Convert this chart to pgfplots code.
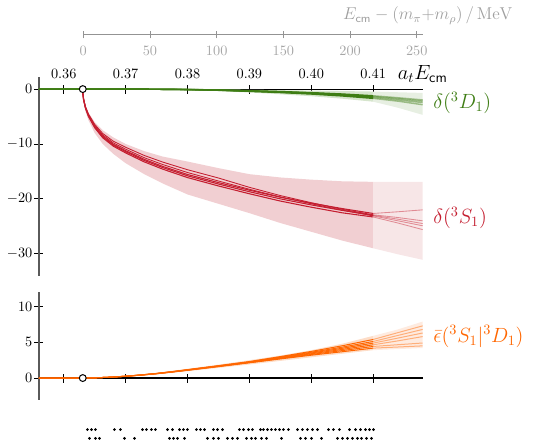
\documentclass[border=0pt]{standalone}
\usepackage{pgfplots}
\pgfplotsset{compat=1.18}
\definecolor{dgreen}{RGB}{62,125,20}
\definecolor{gband}{RGB}{214,229,205}
\definecolor{gbandl}{RGB}{231,239,226}
\definecolor{dred}{RGB}{196,30,48}
\definecolor{rband}{RGB}{241,207,210}
\definecolor{rbandl}{RGB}{247,230,231}
\definecolor{dorange}{RGB}{255,102,0}
\definecolor{oband}{RGB}{253,221,200}
\definecolor{obandl}{RGB}{254,235,224}
\definecolor{axgray}{RGB}{90,90,90}
\pgfplotsset{
  panel/.style={scale only axis, width=268.6pt, xmin=0.356, xmax=0.418,
    axis x line=middle, axis y line=left,
    axis line style={-}, x axis line style={black, line width=0.8pt},
    y axis line style={axgray, line width=0.8pt},
    xtick={0.36,0.37,0.38,0.39,0.40,0.41},
    tick align=center, major tick length=6.3pt,
    tick style={black, line width=0.6pt},
    yticklabel style={xshift=2pt}, clip=false}
}
\begin{document}
\begin{tikzpicture}
\path[use as bounding box] (0,0) rectangle (375.2pt,-308.7pt);
% ---------------- MeV axis ----------------
\begin{axis}[at={(58.31pt,-24.43pt)}, anchor=west, scale only axis,
  width=238pt, height=10pt, xmin=0, xmax=254.9, ymin=-1, ymax=1,
  axis x line=middle, axis y line=none, ytick=\empty,
  axis line style={-, gray!85, line width=0.6pt},
  xtick={0,50,100,150,200,250}, tick align=center, major tick length=5pt,
  tick style={gray!85, line width=0.6pt},
  xticklabel style={text=gray!70, yshift=-2pt}, clip=false]
\addplot[draw=none] coordinates {(0,0) (250,0)};
\node[anchor=east, text=gray!75, font=\fontsize{11.6}{14}\selectfont] at (axis cs:254.9,0) [xshift=66pt, yshift=13.5pt] {$E_{\mathsf{cm}} - (m_\pi{+}m_\rho)\,/\,\mathrm{MeV}$};
\end{axis}
% ---------------- main axis ----------------
\begin{axis}[panel, at={(27.3pt,-193.0pt)}, anchor=south west,
  height=139.1pt, ymin=-34, ymax=2.2,
  xticklabels={0.36,0.37,0.38,0.39,0.40,0.41},
  xticklabel style={anchor=south, yshift=6.5pt},
  ytick={0,-10,-20,-30}]
% red band
\addplot[fill=rband, draw=none] coordinates {(0.36307,0) (0.3635,-3.0) (0.364,-4.3) (0.365,-6.0) (0.3663,-7.5) (0.368,-8.8) (0.370,-10.0) (0.373,-11.3) (0.376,-12.3) (0.380,-13.2) (0.385,-14.4) (0.390,-15.5) (0.395,-16.1) (0.400,-16.5) (0.405,-16.8) (0.410,-16.9)
 (0.410,-29.0) (0.405,-27.6) (0.400,-26.0) (0.395,-24.4) (0.390,-22.6) (0.385,-20.9) (0.380,-19.2) (0.376,-17.2) (0.373,-15.5) (0.370,-13.5) (0.368,-11.8) (0.3663,-10.0) (0.365,-8.0) (0.364,-5.7) (0.3635,-4.0) (0.36307,0)} --cycle;
\addplot[fill=rbandl, draw=none] coordinates {(0.410,-16.9) (0.414,-16.9) (0.418,-16.9) (0.418,-31.1) (0.414,-30.1) (0.410,-29.0)} --cycle;
% green band
\addplot[fill=gband, draw=none] coordinates {(0.375,0) (0.38,-0.03) (0.385,-0.08) (0.39,-0.14) (0.395,-0.2) (0.40,-0.28) (0.405,-0.36) (0.41,-0.45)
 (0.41,-2.3) (0.405,-1.75) (0.40,-1.3) (0.395,-0.95) (0.39,-0.62) (0.385,-0.36) (0.38,-0.16) (0.375,-0.04)} --cycle;
\addplot[fill=gbandl, draw=none] coordinates {(0.41,-0.45) (0.414,-0.58) (0.418,-0.7) (0.418,-4.7) (0.414,-3.4) (0.41,-2.3)} --cycle;
% red lines
\addplot[dred, line width=0.75pt] coordinates {(0.36307,0) (0.36310,-0.9) (0.3632,-1.9) (0.3635,-3.4) (0.364,-4.9) (0.365,-6.9) (0.3663,-8.7) (0.368,-10.2) (0.370,-11.4) (0.373,-13.0) (0.376,-14.3) (0.380,-15.8) (0.385,-17.3) (0.390,-18.7) (0.395,-20.0) (0.400,-21.1) (0.405,-22.1) (0.410,-23.0)};
\addplot[dred, line width=0.75pt] coordinates {(0.36307,0) (0.36310,-0.92) (0.3632,-1.94) (0.3635,-3.47) (0.364,-5.0) (0.365,-7.04) (0.3663,-8.87) (0.368,-10.4) (0.370,-11.63) (0.373,-13.26) (0.376,-14.59) (0.380,-16.12) (0.385,-17.65) (0.390,-19.07) (0.395,-20.4) (0.400,-21.52) (0.405,-22.54) (0.410,-23.3)};
\addplot[dred, line width=0.75pt] coordinates {(0.36307,0) (0.36310,-0.89) (0.3632,-1.87) (0.3635,-3.35) (0.364,-4.83) (0.365,-6.8) (0.3663,-8.57) (0.368,-10.05) (0.370,-11.23) (0.373,-12.8) (0.376,-14.09) (0.380,-15.56) (0.385,-17.04) (0.390,-18.42) (0.395,-19.7) (0.400,-20.78) (0.405,-21.77) (0.410,-22.66)};
\addplot[dred, line width=0.6pt] coordinates {(0.36307,0) (0.36310,-0.84) (0.3632,-1.77) (0.3635,-3.16) (0.364,-4.56) (0.365,-6.42) (0.3663,-8.09) (0.368,-9.49) (0.370,-10.6) (0.373,-12.09) (0.376,-13.3) (0.380,-14.69) (0.385,-16.2) (0.390,-17.9) (0.395,-19.4) (0.400,-20.7) (0.405,-21.9) (0.410,-22.9)};
\addplot[dred, line width=0.6pt] coordinates {(0.36307,0) (0.36310,-0.86) (0.3632,-1.82) (0.3635,-3.26) (0.364,-4.7) (0.365,-6.62) (0.3663,-8.35) (0.368,-9.8) (0.370,-10.95) (0.373,-12.5) (0.376,-13.75) (0.380,-15.2) (0.385,-16.75) (0.390,-18.25) (0.395,-19.65) (0.400,-20.9) (0.405,-22.05) (0.410,-23.1)};
\addplot[dred, opacity=0.45, line width=0.6pt] coordinates {(0.410,-23.0) (0.414,-23.7) (0.418,-24.5)};
\addplot[dred, opacity=0.45, line width=0.6pt] coordinates {(0.410,-23.3) (0.414,-24.4) (0.418,-25.6)};
\addplot[dred, opacity=0.45, line width=0.6pt] coordinates {(0.410,-22.66) (0.414,-22.35) (0.418,-22.0)};
\addplot[dred, opacity=0.45, line width=0.6pt] coordinates {(0.410,-22.9) (0.414,-23.4) (0.418,-24.0)};
\addplot[dred, opacity=0.45, line width=0.6pt] coordinates {(0.410,-23.1) (0.414,-24.0) (0.418,-24.9)};
% green lines
\addplot[dgreen, line width=1pt] coordinates {(0.356,0) (0.36307,0) (0.370,-0.01) (0.375,-0.03) (0.380,-0.08) (0.385,-0.18) (0.390,-0.33) (0.395,-0.5) (0.400,-0.72) (0.405,-1.0) (0.410,-1.35)};
\addplot[dgreen, line width=1pt] coordinates {(0.356,0) (0.36307,0) (0.370,-0.01) (0.375,-0.03) (0.380,-0.09) (0.385,-0.2) (0.390,-0.37) (0.395,-0.56) (0.400,-0.81) (0.405,-1.12) (0.410,-1.51)};
\addplot[dgreen, line width=1pt] coordinates {(0.356,0) (0.36307,0) (0.370,-0.01) (0.375,-0.03) (0.380,-0.07) (0.385,-0.16) (0.390,-0.3) (0.395,-0.45) (0.400,-0.65) (0.405,-0.9) (0.410,-1.22)};
\addplot[dgreen, line width=1pt] coordinates {(0.356,0) (0.36307,0) (0.370,-0.01) (0.375,-0.03) (0.380,-0.1) (0.385,-0.22) (0.390,-0.41) (0.395,-0.63) (0.400,-0.9) (0.405,-1.25) (0.410,-1.69)};
\addplot[dgreen, opacity=0.45, line width=1pt] coordinates {(0.410,-1.35) (0.414,-1.75) (0.418,-2.2)};
\addplot[dgreen, opacity=0.45, line width=1pt] coordinates {(0.410,-1.51) (0.414,-1.96) (0.418,-2.46)};
\addplot[dgreen, opacity=0.45, line width=1pt] coordinates {(0.410,-1.22) (0.414,-1.58) (0.418,-1.98)};
\addplot[dgreen, opacity=0.45, line width=1pt] coordinates {(0.410,-1.69) (0.414,-2.2) (0.418,-2.85)};
% threshold
\addplot[only marks, mark=*, mark size=2.4pt, mark options={fill=white, draw=black, line width=0.7pt}] coordinates {(0.36307,0)};
% labels
\node[font=\Large] at (axis cs:0.418,0) [yshift=10.5pt] {$a_t E_{\mathsf{cm}}$};
\node[anchor=west, text=dgreen, font=\Large] at (axis cs:0.418,-2.55) [xshift=4pt] {$\delta\bigl({}^3D_1\bigr)$};
\node[anchor=west, text=dred, font=\Large] at (axis cs:0.418,-23.5) [xshift=4pt] {$\delta\bigl({}^3S_1\bigr)$};
\end{axis}
% ---------------- bottom axis ----------------
\begin{axis}[panel, at={(27.3pt,-279.65pt)}, anchor=south west,
  height=75.1pt, ymin=-3, ymax=12,
  xticklabels={}, ytick={0,5,10}]
% orange band
\addplot[fill=oband, draw=none] coordinates {(0.36307,0) (0.365,0.04) (0.37,0.3) (0.375,0.72) (0.38,1.3) (0.385,1.88) (0.39,2.5) (0.395,3.15) (0.40,3.9) (0.405,4.8) (0.41,5.9)
 (0.41,3.9) (0.405,3.4) (0.40,2.9) (0.395,2.4) (0.39,1.9) (0.385,1.42) (0.38,0.95) (0.375,0.52) (0.37,0.2) (0.365,0.02) (0.36307,0)} --cycle;
\addplot[fill=obandl, draw=none] coordinates {(0.41,5.9) (0.414,6.8) (0.418,7.9) (0.418,4.2) (0.414,4.05) (0.41,3.9)} --cycle;
% orange lines
\addplot[dorange, line width=0.7pt] coordinates {(0.356,0) (0.36307,0) (0.365,0.029) (0.3675,0.116) (0.37,0.243) (0.3725,0.407) (0.375,0.601) (0.3775,0.834) (0.38,1.086) (0.385,1.6) (0.39,2.134) (0.395,2.674) (0.40,3.196) (0.405,3.68) (0.41,4.185)};
\addplot[dorange, line width=0.7pt] coordinates {(0.356,0) (0.36307,0) (0.365,0.03) (0.3675,0.118) (0.37,0.246) (0.3725,0.414) (0.375,0.611) (0.3775,0.847) (0.38,1.103) (0.385,1.625) (0.39,2.167) (0.395,2.737) (0.40,3.298) (0.405,3.84) (0.41,4.418)};
\addplot[dorange, line width=0.7pt] coordinates {(0.356,0) (0.36307,0) (0.365,0.03) (0.3675,0.12) (0.37,0.25) (0.3725,0.42) (0.375,0.62) (0.3775,0.86) (0.38,1.12) (0.385,1.65) (0.39,2.2) (0.395,2.8) (0.40,3.4) (0.405,4.0) (0.41,4.65)};
\addplot[dorange, line width=0.7pt] coordinates {(0.356,0) (0.36307,0) (0.365,0.03) (0.3675,0.122) (0.37,0.254) (0.3725,0.426) (0.375,0.629) (0.3775,0.873) (0.38,1.137) (0.385,1.675) (0.39,2.233) (0.395,2.863) (0.40,3.502) (0.405,4.16) (0.41,4.883)};
\addplot[dorange, line width=0.7pt] coordinates {(0.356,0) (0.36307,0) (0.365,0.031) (0.3675,0.124) (0.37,0.258) (0.3725,0.433) (0.375,0.639) (0.3775,0.886) (0.38,1.154) (0.385,1.7) (0.39,2.266) (0.395,2.926) (0.40,3.604) (0.405,4.32) (0.41,5.115)};
\addplot[dorange, line width=0.7pt] coordinates {(0.356,0) (0.36307,0) (0.365,0.031) (0.3675,0.126) (0.37,0.262) (0.3725,0.44) (0.375,0.65) (0.3775,0.901) (0.38,1.174) (0.385,1.729) (0.39,2.306) (0.395,3.002) (0.40,3.726) (0.405,4.512) (0.41,5.394)};
\addplot[dorange, opacity=0.45, line width=0.7pt] coordinates {(0.41,4.185) (0.414,4.34) (0.418,4.5)};
\addplot[dorange, opacity=0.45, line width=0.7pt] coordinates {(0.41,4.418) (0.414,4.66) (0.418,4.9)};
\addplot[dorange, opacity=0.45, line width=0.7pt] coordinates {(0.41,4.65) (0.414,5.2) (0.418,5.8)};
\addplot[dorange, opacity=0.45, line width=0.7pt] coordinates {(0.41,4.883) (0.414,5.59) (0.418,6.3)};
\addplot[dorange, opacity=0.45, line width=0.7pt] coordinates {(0.41,5.115) (0.414,5.96) (0.418,6.8)};
\addplot[dorange, opacity=0.45, line width=0.7pt] coordinates {(0.41,5.394) (0.414,6.35) (0.418,7.3)};
% threshold
\addplot[only marks, mark=*, mark size=2.4pt, mark options={fill=white, draw=black, line width=0.7pt}] coordinates {(0.36307,0)};
% energy levels
\addplot[only marks, mark=*, mark size=0.75pt, black] coordinates {
(0.36383,-7.2) (0.36448,-7.2) (0.36512,-7.2) (0.36819,-7.2) (0.36916,-7.2)
(0.37272,-7.2) (0.37336,-7.2) (0.37417,-7.2) (0.37482,-7.2)
(0.37676,-7.2) (0.37757,-7.2) (0.37870,-7.2) (0.37934,-7.2) (0.37999,-7.2) (0.38144,-7.2) (0.38209,-7.2) (0.38274,-7.2) (0.38419,-7.2) (0.38484,-7.2) (0.38565,-7.2)
(0.38839,-7.2) (0.38904,-7.2) (0.38985,-7.2) (0.39049,-7.2) (0.39179,-7.2) (0.39227,-7.2) (0.39292,-7.2) (0.39356,-7.2) (0.39421,-7.2) (0.39486,-7.2) (0.39550,-7.2) (0.39631,-7.2) (0.39777,-7.2) (0.39857,-7.2) (0.39938,-7.2) (0.40019,-7.2) (0.40100,-7.2)
(0.40278,-7.2) (0.40358,-7.2) (0.40455,-7.2)
(0.40617,-7.2) (0.40714,-7.2) (0.40795,-7.2) (0.40876,-7.2) (0.40940,-7.2) (0.41005,-7.2)
(0.36415,-8.43) (0.36512,-8.43) (0.36577,-8.43) (0.36981,-8.43) (0.37143,-8.43)
(0.37708,-8.43) (0.37773,-8.43) (0.37838,-8.43) (0.37951,-8.43)
(0.38322,-8.43) (0.38419,-8.43) (0.38500,-8.43) (0.38645,-8.43) (0.38726,-8.43) (0.38808,-8.43) (0.38953,-8.43) (0.39033,-8.43) (0.39098,-8.43) (0.39195,-8.43) (0.39276,-8.43) (0.39518,-8.43)
(0.39825,-8.43) (0.39906,-8.43) (0.40003,-8.43) (0.40165,-8.43)
(0.40423,-8.43) (0.40504,-8.43) (0.40585,-8.43) (0.40665,-8.43) (0.40746,-8.43) (0.40811,-8.43) (0.40892,-8.43) (0.40973,-8.43)};
\node[anchor=west, text=dorange, font=\Large] at (axis cs:0.418,5.82) [xshift=4pt] {$\bar\epsilon\bigl({}^3S_1\big|{}^3D_1\bigr)$};
\end{axis}
\end{tikzpicture}
\end{document}
